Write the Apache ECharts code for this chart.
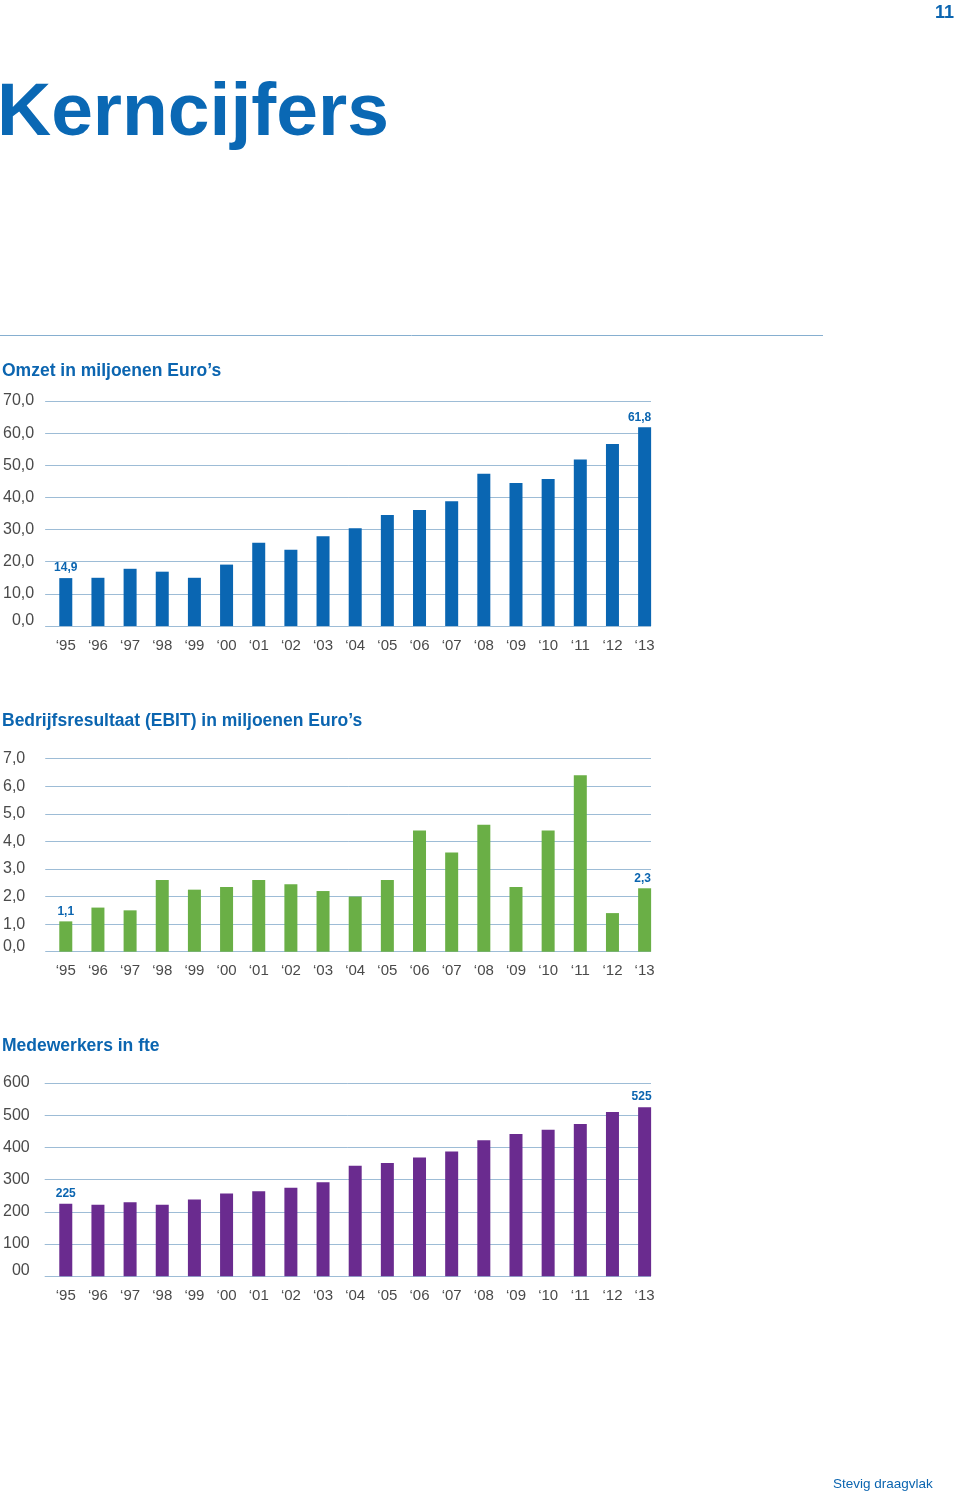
<!DOCTYPE html>
<html><head><meta charset="utf-8">
<script src="https://cdn.jsdelivr.net/npm/echarts@6/dist/echarts.min.js"></script>
<style>html,body{margin:0;padding:0;background:#fff}#c{width:960px;height:1498px}</style>
</head><body><div id="c"></div>
<script>
const years = ['‘95','‘96','‘97','‘98','‘99','‘00','‘01','‘02','‘03','‘04','‘05','‘06','‘07','‘08','‘09','‘10','‘11','‘12','‘13'];
const omzet = [14.9, 15.0, 17.8, 16.9, 15.0, 19.1, 25.9, 23.7, 27.9, 30.4, 34.5, 36.1, 38.8, 47.4, 44.5, 45.7, 51.8, 56.6, 61.8];
const ebit = [1.1, 1.6, 1.5, 2.6, 2.25, 2.35, 2.6, 2.45, 2.2, 2.0, 2.6, 4.4, 3.6, 4.6, 2.35, 4.4, 6.4, 1.4, 2.3];
const fte = [225, 222, 230, 222, 238, 257, 264, 275, 292, 343, 352, 369, 387, 422, 442, 455, 473, 510, 525];
const omzetTicks = {min: 0, max: 70, interval: 10};
const ebitTicks = {min: 0, max: 7, interval: 1};
const fteTicks = {min: 0, max: 600, interval: 100};

const BLUE = '#0b65b0';
const LINE = '#9dbcd6';
const LABEL = '#4a4a4a';
const FONT = "'Liberation Sans', Arial, sans-serif";

const charts = [
  {title: 'Omzet in miljoenen Euro’s', titleY: 370, top: 401, bottom: 626, data: omzet, ticks: omzetTicks, color: '#0a66b2', ym: 11, lastOff: -5,
   fmt: v => v === 0 ? '{z|0,0}' : v.toFixed(1).replace('.', ','), dl: v => v.toFixed(1).replace('.', ',')},
  {title: 'Bedrijfsresultaat (EBIT) in miljoenen Euro’s', titleY: 720, top: 758.7, bottom: 951.7, data: ebit, ticks: ebitTicks, color: '#6aaf46', ym: 20, lastOff: -2,
   fmt: v => v === 0 ? '{z|0,0}' : v.toFixed(1).replace('.', ','), dl: v => v.toFixed(1).replace('.', ',')},
  {title: 'Medewerkers in fte', titleY: 1045, top: 1083, bottom: 1276.3, data: fte, ticks: fteTicks, color: '#6a2b8f', ym: 15, lastOff: -3,
   fmt: v => v === 0 ? '{z|00}' : String(v), dl: v => String(v)}
];

const grid = [], xAxis = [], yAxis = [], series = [];
charts.forEach((c, i) => {
  const h = c.bottom - c.top;
  grid.push({left: 44, top: c.top, width: 607, height: h});
  grid.push({left: 49.7, top: c.top, width: 611, height: h});
  const gA = 2 * i, gB = 2 * i + 1;
  xAxis.push({type: 'category', gridIndex: gA, data: years, show: false});
  xAxis.push({type: 'category', gridIndex: gB, data: years, boundaryGap: true,
    axisLine: {show: false}, axisTick: {show: false},
    axisLabel: {color: LABEL, fontFamily: FONT, fontSize: 15, margin: 12, interval: 0}});
  yAxis.push({type: 'value', gridIndex: gA, min: c.ticks.min, max: c.ticks.max, interval: c.ticks.interval,
    axisLine: {show: false}, axisTick: {show: false},
    splitLine: {show: true, lineStyle: {color: LINE, width: 1}},
    axisLabel: {color: LABEL, fontFamily: FONT, fontSize: 16, margin: c.ym, align: 'right', formatter: c.fmt,
      rich: {z: {color: LABEL, fontFamily: FONT, fontSize: 16, padding: [0, 0, 11, 0]}}}});
  yAxis.push({type: 'value', gridIndex: gB, min: c.ticks.min, max: c.ticks.max, interval: c.ticks.interval, show: false,
    splitLine: {show: false}});
  const n = c.data.length;
  series.push({type: 'bar', xAxisIndex: gB, yAxisIndex: gB, barWidth: 13, z: 3,
    itemStyle: {color: c.color},
    data: c.data.map((v, k) => ({value: v, label: {show: k === 0 || k === n - 1, offset: [k === n - 1 ? c.lastOff : 0, 0]}})),
    label: {position: 'top', distance: 4, color: BLUE, fontFamily: FONT, fontWeight: 'bold', fontSize: 12,
      formatter: p => c.dl(p.value)}});
});

const graphic = [
  {type: 'text', left: 935, top: 4, style: {text: '11', fill: BLUE, font: "bold 18px " + FONT}},
  {type: 'text', left: -3, top: 77, style: {text: 'Kerncijfers', fill: '#0a68b4', font: "bold 75px " + FONT}},
  {type: 'line', shape: {x1: 0, y1: 335.5, x2: 823, y2: 335.5}, style: {stroke: '#86afd0', lineWidth: 1}},
  {type: 'text', left: 833, top: 1477, style: {text: 'Stevig draagvlak', fill: BLUE, font: "13.5px " + FONT}}
];
charts.forEach(c => {
  graphic.push({type: 'text', left: 2, top: c.titleY - 8, style: {text: c.title, fill: BLUE, font: "bold 17.5px " + FONT}});
});

const chart = echarts.init(document.getElementById('c'), null, {renderer: 'canvas'});
chart.setOption({animation: false, backgroundColor: '#fff', grid, xAxis, yAxis, series, graphic});
</script></body></html>
